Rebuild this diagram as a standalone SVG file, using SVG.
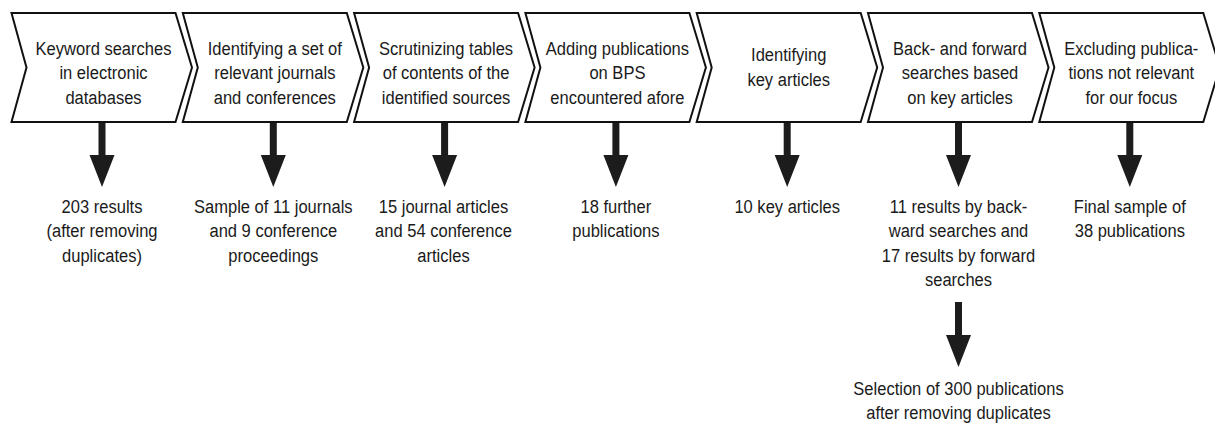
<svg xmlns="http://www.w3.org/2000/svg" xmlns:xlink="http://www.w3.org/1999/xlink" width="1215" height="423" viewBox="0 0 1215 423">
<style>
.chev{fill:#fff;stroke:#111;stroke-width:2;stroke-linejoin:miter}
.t{font-family:"Liberation Sans",Arial,sans-serif;font-size:19px;fill:#1a1a1a;text-anchor:middle}
.arr{fill:#1c1c1c}
</style>
<defs>
<path id="arrow" d="M-3.5,0 H3.5 V33 H12.5 L0,65 L-12.5,33 H-3.5 Z"/>
<polygon id="chevshape" points="0,13 164,13 180.5,67.5 164,122 0,122 15,67.5"/>
</defs>
<rect width="1215" height="423" fill="#fff"/>
<g id="connectors" class="arr">
<use xlink:href="#arrow" transform="translate(102,122)"/>
<use xlink:href="#arrow" transform="translate(273.3,122)"/>
<use xlink:href="#arrow" transform="translate(444.6,122)"/>
<use xlink:href="#arrow" transform="translate(615.9,122)"/>
<use xlink:href="#arrow" transform="translate(787.2,122)"/>
<use xlink:href="#arrow" transform="translate(958.5,122)"/>
<use xlink:href="#arrow" transform="translate(1129.8,122)"/>
<use xlink:href="#arrow" transform="translate(958.5,302)"/>
</g>
<g id="step1"><use xlink:href="#chevshape" class="chev" transform="translate(11.5,0)"/>
<g transform="translate(103.5,0) scale(0.87,1)"><text class="t"><tspan x="0" y="55">Keyword searches</tspan><tspan x="0" y="79.5">in electronic</tspan><tspan x="0" y="104">databases</tspan></text></g></g>
<g id="step2"><use xlink:href="#chevshape" class="chev" transform="translate(182.8,0)"/>
<g transform="translate(274.8,0) scale(0.87,1)"><text class="t"><tspan x="0" y="55">Identifying a set of</tspan><tspan x="0" y="79.5">relevant journals</tspan><tspan x="0" y="104">and conferences</tspan></text></g></g>
<g id="step3"><use xlink:href="#chevshape" class="chev" transform="translate(354.1,0)"/>
<g transform="translate(446.1,0) scale(0.87,1)"><text class="t"><tspan x="0" y="55">Scrutinizing tables</tspan><tspan x="0" y="79.5">of contents of the</tspan><tspan x="0" y="104">identified sources</tspan></text></g></g>
<g id="step4"><use xlink:href="#chevshape" class="chev" transform="translate(525.4,0)"/>
<g transform="translate(617.4,0) scale(0.87,1)"><text class="t"><tspan x="0" y="55">Adding publications</tspan><tspan x="0" y="79.5">on BPS</tspan><tspan x="0" y="104">encountered afore</tspan></text></g></g>
<g id="step5"><use xlink:href="#chevshape" class="chev" transform="translate(696.7,0)"/>
<g transform="translate(788.7,0) scale(0.87,1)"><text class="t"><tspan x="0" y="61.5">Identifying</tspan><tspan x="0" y="86">key articles</tspan></text></g></g>
<g id="step6"><use xlink:href="#chevshape" class="chev" transform="translate(868,0)"/>
<g transform="translate(960,0) scale(0.87,1)"><text class="t"><tspan x="0" y="55">Back- and forward</tspan><tspan x="0" y="79.5">searches based</tspan><tspan x="0" y="104">on key articles</tspan></text></g></g>
<g id="step7"><use xlink:href="#chevshape" class="chev" transform="translate(1039.3,0)"/>
<g transform="translate(1131.3,0) scale(0.87,1)"><text class="t"><tspan x="0" y="55">Excluding publica-</tspan><tspan x="0" y="79.5">tions not relevant</tspan><tspan x="0" y="104">for our focus</tspan></text></g></g>
<g id="result1"><g transform="translate(102,0) scale(0.87,1)"><text class="t"><tspan x="0" y="213">203 results</tspan><tspan x="0" y="237.5">(after removing</tspan><tspan x="0" y="262">duplicates)</tspan></text></g></g>
<g id="result2"><g transform="translate(273.3,0) scale(0.87,1)"><text class="t"><tspan x="0" y="213">Sample of 11 journals</tspan><tspan x="0" y="237.5">and 9 conference</tspan><tspan x="0" y="262">proceedings</tspan></text></g></g>
<g id="result3"><g transform="translate(443.5,0) scale(0.87,1)"><text class="t"><tspan x="0" y="213">15 journal articles</tspan><tspan x="0" y="237.5">and 54 conference</tspan><tspan x="0" y="262">articles</tspan></text></g></g>
<g id="result4"><g transform="translate(615.9,0) scale(0.87,1)"><text class="t"><tspan x="0" y="213">18 further</tspan><tspan x="0" y="237.5">publications</tspan></text></g></g>
<g id="result5"><g transform="translate(787.2,0) scale(0.87,1)"><text class="t"><tspan x="0" y="213">10 key articles</tspan></text></g></g>
<g id="result6"><g transform="translate(958.5,0) scale(0.87,1)"><text class="t"><tspan x="0" y="213">11 results by back-</tspan><tspan x="0" y="237.5">ward searches and</tspan><tspan x="0" y="262">17 results by forward</tspan><tspan x="0" y="286.5">searches</tspan></text></g></g>
<g id="result7"><g transform="translate(1129.8,0) scale(0.87,1)"><text class="t"><tspan x="0" y="213">Final sample of</tspan><tspan x="0" y="237.5">38 publications</tspan></text></g></g>
<g id="result8"><g transform="translate(958.5,0) scale(0.87,1)"><text class="t"><tspan x="0" y="395">Selection of 300 publications</tspan><tspan x="0" y="419.5">after removing duplicates</tspan></text></g></g>
</svg>
